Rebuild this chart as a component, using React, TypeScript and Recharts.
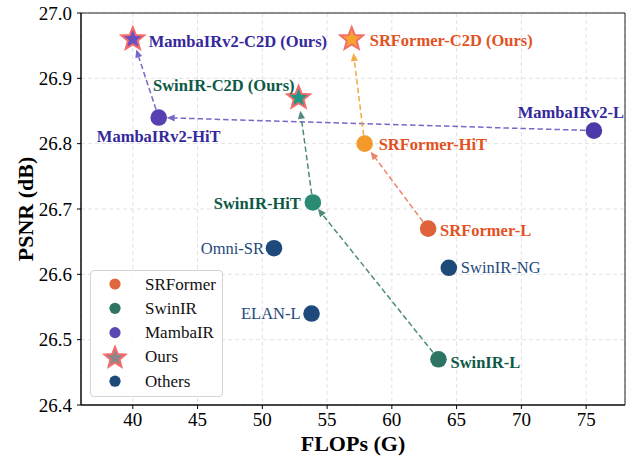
import React from 'react';
import {
  ScatterChart,
  Scatter,
  XAxis,
  YAxis,
  CartesianGrid,
  ReferenceLine,
  ReferenceArea,
  Legend,
} from 'recharts';

// ---------- data ----------
const names = [
  'MambaIRv2-C2D (Ours)',
  'SRFormer-C2D (Ours)',
  'SwinIR-C2D (Ours)',
  'MambaIRv2-HiT',
  'MambaIRv2-L',
  'SRFormer-HiT',
  'SwinIR-HiT',
  'SRFormer-L',
  'Omni-SR',
  'SwinIR-NG',
  'ELAN-L',
  'SwinIR-L',
];
const flops = [40.0, 56.9, 52.8, 42.0, 75.6, 57.9, 53.9, 62.8, 50.9, 64.4, 53.8, 63.6];
const psnr = [26.96, 26.96, 26.87, 26.84, 26.82, 26.8, 26.71, 26.67, 26.64, 26.61, 26.54, 26.47];
const groups = [
  'MambaIR', 'SRFormer', 'SwinIR', 'MambaIR', 'MambaIR', 'SRFormer',
  'SwinIR', 'SRFormer', 'Others', 'Others', 'Others', 'SwinIR',
];
const isOurs = [true, true, true, false, false, false, false, false, false, false, false, false];

const arrowFrom = ['MambaIRv2-L', 'MambaIRv2-HiT', 'SwinIR-L', 'SwinIR-HiT', 'SRFormer-L', 'SRFormer-HiT'];
const arrowTo = [
  'MambaIRv2-HiT', 'MambaIRv2-C2D (Ours)', 'SwinIR-HiT', 'SwinIR-C2D (Ours)', 'SRFormer-HiT', 'SRFormer-C2D (Ours)',
];

const xTicks = [40, 45, 50, 55, 60, 65, 70, 75];
const yTicks = [26.4, 26.5, 26.6, 26.7, 26.8, 26.9, 27.0];

const legendLabels = ['SRFormer', 'SwinIR', 'MambaIR', 'Ours', 'Others'];

// ---------- styles ----------
const FONT = "'Liberation Serif', 'Times New Roman', serif";

const pointFill: Record<string, string> = {
  'MambaIRv2-C2D (Ours)': '#6a4fc2',
  'SRFormer-C2D (Ours)': '#f6a52c',
  'SwinIR-C2D (Ours)': '#1f9886',
  'MambaIRv2-HiT': '#5940b2',
  'MambaIRv2-L': '#4b3aa8',
  'SRFormer-HiT': '#f39a2a',
  'SwinIR-HiT': '#2a8a72',
  'SRFormer-L': '#e0623b',
  'Omni-SR': '#1e4a7b',
  'SwinIR-NG': '#1e4a7b',
  'ELAN-L': '#1e4a7b',
  'SwinIR-L': '#2d7465',
};

const textColor: Record<string, string> = {
  SRFormer: '#e2521f',
  SwinIR: '#0c5a46',
  MambaIR: '#35289c',
  Others: '#1f4a7c',
};

const labelLayout: Record<string, { dx: number; dy: number; anchor: 'start' | 'middle' | 'end' }> = {
  'MambaIRv2-C2D (Ours)': { dx: 16, dy: 2, anchor: 'start' },
  'SRFormer-C2D (Ours)': { dx: 18, dy: 1, anchor: 'start' },
  'SwinIR-C2D (Ours)': { dx: -4, dy: -12, anchor: 'end' },
  'MambaIRv2-HiT': { dx: 0, dy: 19, anchor: 'middle' },
  'MambaIRv2-L': { dx: -23, dy: -18, anchor: 'middle' },
  'SRFormer-HiT': { dx: 14, dy: 1, anchor: 'start' },
  'SwinIR-HiT': { dx: -12, dy: 1, anchor: 'end' },
  'SRFormer-L': { dx: 12, dy: 2, anchor: 'start' },
  'Omni-SR': { dx: -10, dy: 0, anchor: 'end' },
  'SwinIR-NG': { dx: 12, dy: 0, anchor: 'start' },
  'ELAN-L': { dx: -11, dy: 0, anchor: 'end' },
  'SwinIR-L': { dx: 12, dy: 3, anchor: 'start' },
};

const arrowStyle = [
  { color: '#6a58c4', shrink: 8 },
  { color: '#6a58c4', shrink: 11 },
  { color: '#3c7e70', shrink: 8 },
  { color: '#3c7e70', shrink: 13 },
  { color: '#e8785a', shrink: 10 },
  { color: '#f5a032', shrink: 14 },
];

const legendColors = ['#e0673f', '#2f7566', '#5a48b0', '#888888', '#1e4a7b'];

const STAR_STROKE = '#f46c6c';

// ---------- build records ----------
const points = names.map((n, i) => ({
  name: n,
  x: flops[i],
  y: psnr[i],
  group: groups[i],
  ours: isOurs[i],
}));
const byName: Record<string, { x: number; y: number }> = {};
points.forEach((p) => (byName[p.name] = p));

function starPath(cx: number, cy: number, R: number, r: number) {
  const pts: string[] = [];
  for (let k = 0; k < 10; k++) {
    const rad = k % 2 === 0 ? R : r;
    const a = -Math.PI / 2 + (k * Math.PI) / 5;
    pts.push(`${(cx + rad * Math.cos(a)).toFixed(2)},${(cy + rad * Math.sin(a)).toFixed(2)}`);
  }
  return pts.join(' ');
}

const PointShape = (props: any) => {
  const { cx, cy, payload } = props;
  if (cx == null || cy == null) return null;
  const lay = labelLayout[payload.name];
  const col = textColor[payload.group];
  return (
    <g>
      {payload.ours ? (
        <polygon
          points={starPath(cx, cy, 12, 5.2)}
          fill={pointFill[payload.name]}
          stroke={STAR_STROKE}
          strokeWidth={2}
          strokeLinejoin="miter"
        />
      ) : (
        <circle cx={cx} cy={cy} r={8.3} fill={pointFill[payload.name]} />
      )}
      <text
        x={cx + lay.dx}
        y={cy + lay.dy}
        textAnchor={lay.anchor}
        dominantBaseline="central"
        style={{ fontFamily: FONT }}
        fontSize={16.5}
        fontWeight={payload.group === 'Others' ? 'normal' : 'bold'}
        fill={col}
      >
        {payload.name}
      </text>
    </g>
  );
};

const makeArrow = (color: string, shrink: number) => (p: any) => {
  const { x1, y1, x2, y2 } = p;
  if ([x1, y1, x2, y2].some((v) => v == null || isNaN(v))) return null;
  const dx = x2 - x1;
  const dy = y2 - y1;
  const len = Math.hypot(dx, dy) || 1;
  const ux = dx / len;
  const uy = dy / len;
  const tipX = x2 - ux * shrink;
  const tipY = y2 - uy * shrink;
  const headLen = 8;
  const headW = 3.6;
  const bx = tipX - ux * headLen;
  const by = tipY - uy * headLen;
  const px = -uy;
  const py = ux;
  return (
    <g opacity={0.9}>
      <line x1={x1} y1={y1} x2={bx} y2={by} stroke={color} strokeWidth={1.5} strokeDasharray="5.5 3" />
      <polygon
        points={`${tipX},${tipY} ${bx + px * headW},${by + py * headW} ${bx - px * headW},${by - py * headW}`}
        fill={color}
      />
    </g>
  );
};

const LegendBox = () => (
  <div
    style={{
      width: 131,
      height: 125,
      border: '1px solid #d4d4d4',
      borderRadius: 4,
      background: 'rgba(255,255,255,0.85)',
      fontFamily: FONT,
    }}
  >
    <svg width={131} height={125} style={{ display: 'block' }}>
      {legendLabels.map((lab, i) => {
        const cy = 13 + i * 24.3;
        return (
          <g key={lab}>
            {lab === 'Ours' ? (
              <polygon points={starPath(24, cy + 1, 11, 4.8)} fill={legendColors[i]} stroke={STAR_STROKE} strokeWidth={2} />
            ) : (
              <circle cx={24} cy={cy} r={5.6} fill={legendColors[i]} />
            )}
            <text
              x={54}
              y={cy}
              dominantBaseline="central"
              style={{ fontFamily: FONT, fontSize: 17 }}
              fill="#111"
            >
              {lab}
            </text>
          </g>
        );
      })}
    </svg>
  </div>
);

export default function App() {
  return (
    <div style={{ position: 'absolute', left: 0, top: 0, width: 638, height: 457, background: '#fff' }}>
      <ScatterChart width={638} height={457} margin={{ top: 13, right: 13, bottom: 0, left: 0 }}>
        <CartesianGrid stroke="#e2e2e2" strokeDasharray="4 3" />
        <XAxis
          type="number"
          dataKey="x"
          domain={[36, 78]}
          ticks={xTicks}
          height={52}
          allowDataOverflow
          tickSize={4}
          tickMargin={4}
          stroke="#000"
          tick={{ fontFamily: FONT, fontSize: 19, fill: '#000' }}
          label={{
            value: 'FLOPs (G)',
            position: 'center',
            dy: 12,
            style: { fontFamily: FONT, fontSize: 22, fontWeight: 'bold', fill: '#000' },
          }}
        />
        <YAxis
          type="number"
          dataKey="y"
          domain={[26.4, 27.0]}
          ticks={yTicks}
          width={81}
          allowDataOverflow
          tickSize={4}
          tickMargin={5}
          stroke="#000"
          tickFormatter={(v: number) => v.toFixed(1)}
          tick={{ fontFamily: FONT, fontSize: 19, fill: '#000' }}
          label={{
            value: 'PSNR (dB)',
            angle: -90,
            position: 'center',
            dx: -15,
            style: { fontFamily: FONT, fontSize: 22, fontWeight: 'bold', fill: '#000', textAnchor: 'middle' },
          }}
        />
        <ReferenceArea x1={36} x2={78} y1={26.4} y2={27.0} fill="none" stroke="#222" strokeWidth={1} ifOverflow="visible" />
        <Scatter data={points} isAnimationActive={false} shape={PointShape} />
        {arrowFrom.map((f, i) => (
          <ReferenceLine
            key={f + i}
            segment={[
              { x: byName[f].x, y: byName[f].y },
              { x: byName[arrowTo[i]].x, y: byName[arrowTo[i]].y },
            ]}
            ifOverflow="visible"
            shape={makeArrow(arrowStyle[i].color, arrowStyle[i].shrink)}
          />
        ))}
        <Legend
          layout="vertical"
          align="center"
          verticalAlign="middle"
          content={() => <LegendBox />}
          wrapperStyle={{ left: 90, top: 270, width: 133, height: 127 }}
        />
      </ScatterChart>
    </div>
  );
}
